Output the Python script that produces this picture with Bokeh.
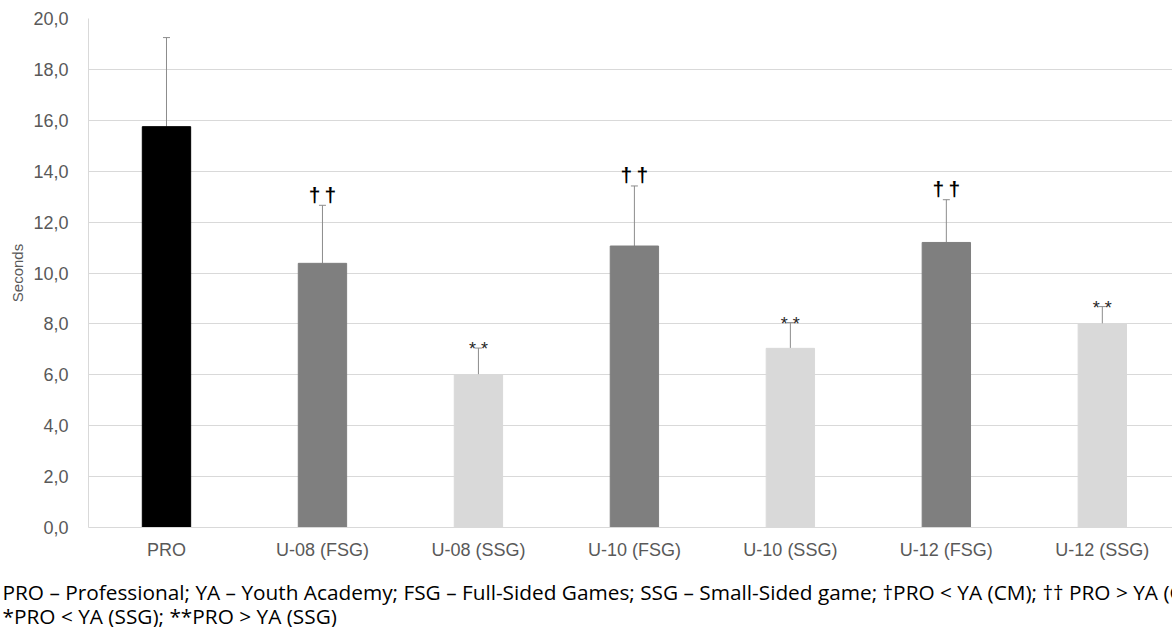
from bokeh.plotting import figure
from bokeh.layouts import column
from bokeh.models import Range1d, FixedTicker, ColumnDataSource, Whisker, TeeHead, Label
from bokeh.core.properties import value
from bokeh.embed import file_html
from bokeh.resources import INLINE

categories = ["PRO", "U-08 (FSG)", "U-08 (SSG)", "U-10 (FSG)", "U-10 (SSG)", "U-12 (FSG)", "U-12 (SSG)"]
means = [15.75, 10.38, 6.0, 11.06, 7.04, 11.2, 8.0]
errors = [3.5, 2.28, 1.05, 2.36, 1.01, 1.68, 0.68]
marks = ["", "\u2020\u2009\u2020", "* *", "\u2020\u2009\u2020", "* *", "\u2020\u2009\u2020", "* *"]
bar_colors = ["#000000", "#7f7f7f", "#d9d9d9", "#7f7f7f", "#d9d9d9", "#7f7f7f", "#d9d9d9"]
y_ticks = [0, 2, 4, 6, 8, 10, 12, 14, 16, 18, 20]
y_tick_labels = ["0,0", "2,0", "4,0", "6,0", "8,0", "10,0", "12,0", "14,0", "16,0", "18,0", "20,0"]
y_label = "Seconds"
footer_1 = ("PRO \u2013 Professional; YA \u2013 Youth Academy; FSG \u2013 Full-Sided Games; "
            "SSG \u2013 Small-Sided game; \u2020PRO < YA (CM); \u2020\u2020 PRO > YA (CM)")
footer_2 = "*PRO < YA (SSG); **PRO > YA (SSG)"

xs = [i + 0.5 for i in range(len(categories))]
uppers = [m + e for m, e in zip(means, errors)]
src = ColumnDataSource(dict(x=xs, top=means, upper=uppers, color=bar_colors, mark=marks))

p = figure(width=1172, height=563, output_backend="svg", toolbar_location=None,
           x_range=Range1d(0, 6.95), y_range=Range1d(0, 20),
           min_border_left=88, min_border_right=0, min_border_top=18, min_border_bottom=36)
p.outline_line_color = None
p.background_fill_color = "white"
p.border_fill_color = "white"

p.vbar(x="x", top="top", bottom=0, width=0.31, fill_color="color", line_color="color", source=src)
p.add_layout(Whisker(source=src, base="x", upper="upper", lower="top", dimension="height",
                     line_color="#8c8c8c", line_width=1,
                     upper_head=TeeHead(size=7, line_color="#8c8c8c", line_width=1),
                     lower_head=None))

dag_idx = [i for i in range(len(xs)) if "\u2020" in marks[i]]
star_idx = [i for i in range(len(xs)) if "*" in marks[i]]
dag_src = ColumnDataSource(dict(x=[xs[i] for i in dag_idx], y=[uppers[i] for i in dag_idx],
                                t=[marks[i] for i in dag_idx]))
star_src = ColumnDataSource(dict(x=[xs[i] for i in star_idx], y=[uppers[i] for i in star_idx],
                                 t=[marks[i] for i in star_idx]))
p.text(x="x", y="y", text="t", source=dag_src, text_align="center", text_baseline="alphabetic",
       y_offset=-11, text_font=value("Liberation Sans"), text_font_size="21px",
       text_font_style="bold", text_color="black")
p.text(x="x", y="y", text="t", source=star_src, text_align="center", text_baseline="alphabetic",
       y_offset=1, text_font=value("Liberation Sans"), text_font_size="18px",
       text_color="#262626")

# axes
p.xaxis.ticker = FixedTicker(ticks=xs)
p.xaxis.major_label_overrides = {x: c for x, c in zip(xs, categories)}
p.yaxis.ticker = FixedTicker(ticks=y_ticks)
p.yaxis.major_label_overrides = {t: l for t, l in zip(y_ticks, y_tick_labels)}
for ax in (p.xaxis[0], p.yaxis[0]):
    ax.axis_line_color = "#d9d9d9"
    ax.major_tick_line_color = None
    ax.minor_tick_line_color = None
    ax.major_label_text_font = "Liberation Sans"
    ax.major_label_text_font_size = "18px"
    ax.major_label_text_color = "#595959"
p.xaxis.major_label_standoff = 6
p.yaxis.major_label_standoff = 14
p.yaxis.axis_label = y_label
p.yaxis.axis_label_text_font = "Liberation Sans"
p.yaxis.axis_label_text_font_size = "15px"
p.yaxis.axis_label_text_font_style = "normal"
p.yaxis.axis_label_text_color = "#595959"
p.yaxis.axis_label_standoff = 4
p.xgrid.grid_line_color = None
p.ygrid.grid_line_color = "#d9d9d9"
p.ygrid.ticker = FixedTicker(ticks=y_ticks)

# footer note panel
f = figure(width=1172, height=64, output_backend="svg", toolbar_location=None,
           x_range=Range1d(0, 1172), y_range=Range1d(0, 64),
           min_border=0, x_axis_type=None, y_axis_type=None)
f.frame_align = False
f.outline_line_color = None
f.xgrid.grid_line_color = None
f.ygrid.grid_line_color = None
for txt, yy in ((footer_1, 36), (footer_2, 12)):
    f.add_layout(Label(x=2, y=yy, x_units="screen", y_units="screen", text=txt,
                       text_align="left", text_baseline="alphabetic",
                       text_font="Open Sans", text_font_size="20.8px",
                       text_color="black"))

layout = column(p, f, spacing=0)
open("out.html", "w").write(file_html(layout, INLINE))
